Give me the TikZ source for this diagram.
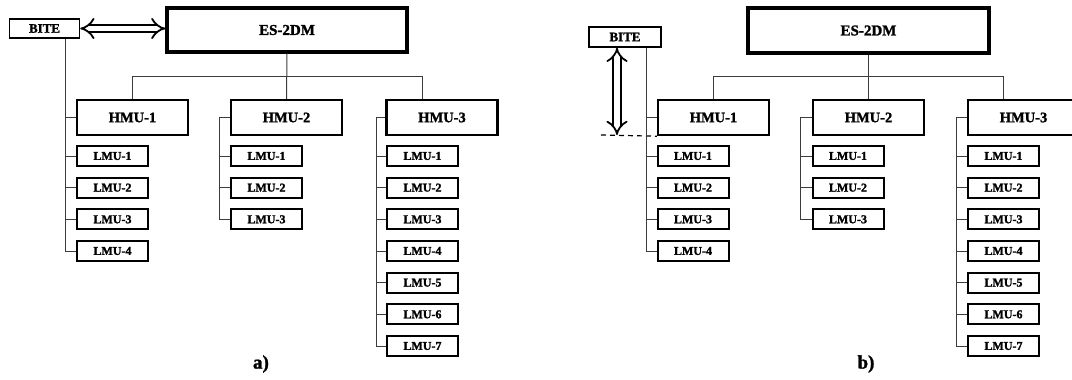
\documentclass[tikz,border=0pt]{standalone}
\usepackage{fontspec}
\setmainfont{Liberation Serif}[BoldFeatures={FakeBold=1.5}]
\usetikzlibrary{arrows.meta,positioning,calc}
\definecolor{wiregray}{HTML}{3C3C3C}
\tikzset{
  topbox/.style  = {draw, line width=3.2pt, minimum width=240pt, minimum height=44pt,
                    font=\fontsize{15}{18}\selectfont\bfseries},
  hmubox/.style  = {draw, line width=2.4pt, minimum width=111pt, minimum height=35pt,
                    font=\fontsize{14.5}{17}\selectfont\bfseries},
  lmubox/.style  = {draw, line width=2pt, minimum width=71pt, minimum height=20pt,
                    inner sep=0pt, font=\fontsize{12}{14}\selectfont\bfseries},
  bitebox/.style = {draw, line width=1.6pt, minimum width=70pt, minimum height=19pt,
                    inner sep=0pt, font=\fontsize{13}{15}\selectfont\bfseries},
  wire/.style    = {wiregray, line width=1pt},
  link/.style    = {double, double distance=5.5pt, line width=1.8pt, {Implies}-{Implies}},
  caption/.style = {font=\fontsize{19}{22}\selectfont\bfseries},
}

\begin{document}
\begin{tikzpicture}[x=1pt, y=-1pt]
\useasboundingbox (0,0) rectangle (1072,380);
\clip (0,0) rectangle (1072,380);
% ================= a) BITE beside the controller =================
\node[bitebox] (biteA) at (44.5,28.5) {BITE};
\node[topbox]  (esA)   at (287,30)    {ES-2DM};
\node[hmubox]  (hmuA1) at (132.5,117.5) {HMU-1};
\node[hmubox]  (hmuA2) at (286.5,117.5) {HMU-2};
\node[hmubox]  (hmuA3) at (442,117.5)   {HMU-3};
\draw[link] (biteA.east) -- (biteA.east -| esA.west);
% ---- bus under ES-2DM ----
\coordinate (busA1) at (132.5,76);
\coordinate (busA3) at (422,76);
\draw[wire] (esA.south) -- (hmuA2.north);
\draw[wire] (hmuA1.north) -- (busA1) -- (busA3) -- (busA3 |- hmuA3.north);
% ---- LMU columns ----
\foreach \i [evaluate=\i as \y using 156+31.67*(\i-1)] in {1,...,4}
  \node[lmubox] (lmuA1-\i) at (112.5,\y) {LMU-\i};
\foreach \i [evaluate=\i as \y using 156+31.67*(\i-1)] in {1,...,3}
  \node[lmubox] (lmuA2-\i) at (266.5,\y) {LMU-\i};
\foreach \i [evaluate=\i as \y using 156+31.67*(\i-1)] in {1,...,7}
  \node[lmubox] (lmuA3-\i) at (422.5,\y) {LMU-\i};
% ---- spines ----
\coordinate (spA1) at (65,0);
\coordinate (spA2) at (219,0);
\coordinate (spA3) at (376,0);
\draw[wire] (spA1 |- biteA.south) -- (spA1 |- lmuA1-4.west);
\draw[wire] (spA1 |- hmuA1.west) -- (hmuA1.west);
\draw[wire] (hmuA2.west) -| (spA2 |- lmuA2-3.west);
\draw[wire] (hmuA3.west) -| (spA3 |- lmuA3-7.west);
\foreach \i in {1,...,4} \draw[wire] (lmuA1-\i.west) -- (lmuA1-\i.west -| spA1);
\foreach \i in {1,...,3} \draw[wire] (lmuA2-\i.west) -- (lmuA2-\i.west -| spA2);
\foreach \i in {1,...,7} \draw[wire] (lmuA3-\i.west) -- (lmuA3-\i.west -| spA3);
\node[caption] (capA) at (261,364) {a)};
% ================= b) BITE on the HMU level =================
\node[bitebox, minimum width=72pt, minimum height=20pt] (biteB) at (625,37) {BITE};
\node[topbox, minimum width=241pt, minimum height=45pt] (esB) at (868.5,30.5) {ES-2DM};
\node[hmubox]  (hmuB1) at (713.5,117.5)  {HMU-1};
\node[hmubox]  (hmuB2) at (868.5,117.5)  {HMU-2};
\node[hmubox]  (hmuB3) at (1023.5,117.5) {HMU-3};
% ---- bus under ES-2DM ----
\coordinate (busB1) at (713.5,76);
\coordinate (busB3) at (1003,76);
\draw[wire] (esB.south) -- (hmuB2.north);
\draw[wire] (hmuB1.north) -- (busB1) -- (busB3) -- (busB3 |- hmuB3.north);
% ---- level marker and link ----
\coordinate (dashB) at (601,135);
\coordinate (tapB)  at (617,135);
\draw[line width=1.2pt, dash pattern=on 5pt off 4pt] (dashB) -- (hmuB1.south west);
\draw[link] (tapB |- biteB.south) -- (tapB);
% ---- LMU columns ----
\foreach \i [evaluate=\i as \y using 156+31.67*(\i-1)] in {1,...,4}
  \node[lmubox] (lmuB1-\i) at (693,\y) {LMU-\i};
\foreach \i [evaluate=\i as \y using 156+31.67*(\i-1)] in {1,...,3}
  \node[lmubox] (lmuB2-\i) at (848,\y) {LMU-\i};
\foreach \i [evaluate=\i as \y using 156+31.67*(\i-1)] in {1,...,7}
  \node[lmubox] (lmuB3-\i) at (1003.5,\y) {LMU-\i};
% ---- spines ----
\coordinate (spB1) at (646,0);
\coordinate (spB2) at (800,0);
\coordinate (spB3) at (956,0);
\draw[wire] (spB1 |- biteB.south) -- (spB1 |- lmuB1-4.west);
\draw[wire] (spB1 |- hmuB1.west) -- (hmuB1.west);
\draw[wire] (hmuB2.west) -| (spB2 |- lmuB2-3.west);
\draw[wire] (hmuB3.west) -| (spB3 |- lmuB3-7.west);
\foreach \i in {1,...,4} \draw[wire] (lmuB1-\i.west) -- (lmuB1-\i.west -| spB1);
\foreach \i in {1,...,3} \draw[wire] (lmuB2-\i.west) -- (lmuB2-\i.west -| spB2);
\foreach \i in {1,...,7} \draw[wire] (lmuB3-\i.west) -- (lmuB3-\i.west -| spB3);
\node[caption] (capB) at (866,364) {b)};
\end{tikzpicture}
\end{document}
